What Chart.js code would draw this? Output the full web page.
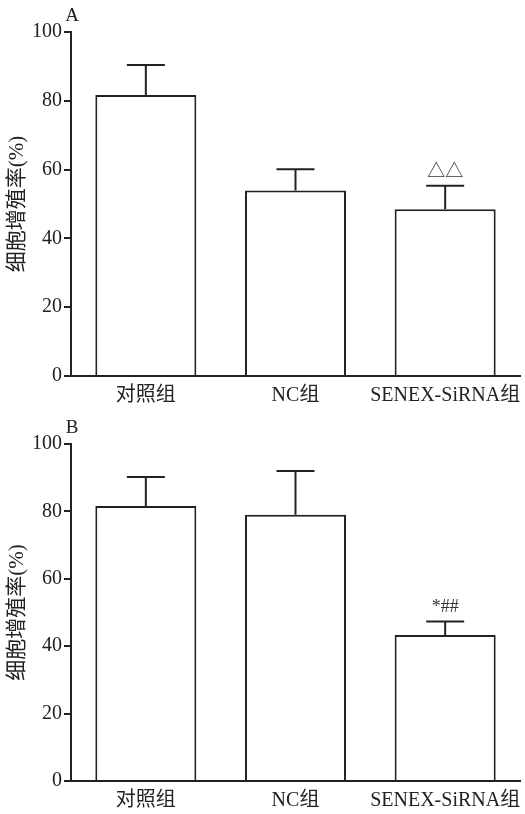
<!DOCTYPE html>
<html>
<head>
<meta charset="utf-8">
<script src="https://cdn.jsdelivr.net/npm/chart.js"></script>
<style>
  body { margin: 0; background: #fff; }
  .panel { position: absolute; left: 0; width: 525px; height: 407px; }
</style>
</head>
<body>
<div class="panel" style="top:0"><canvas id="chartA"></canvas></div>
<div class="panel" style="top:407px"><canvas id="chartB"></canvas></div>
<script>
  const categories = ['对照组', 'NC组', 'SENEX-SiRNA组'];
  const valuesA = [81.7, 53.9, 48.5];
  const errorsA = [8.7, 6.2, 6.8];
  const marksA = ['', '', '△△'];
  const valuesB = [81.6, 79.0, 43.3];
  const errorsB = [8.6, 13.0, 4.0];
  const marksB = ['', '', '*##'];
  const yTicks = [0, 20, 40, 60, 80, 100];
  const yTitle = '细胞增殖率(%)';

  const ink = '#222';
  const serif = '"Liberation Serif", "Noto Sans CJK SC", serif';

  // error bars + significance marks + panel letter
  const extras = {
    id: 'extras',
    afterDatasetsDraw(chart, args, opts) {
      const c = chart.ctx;
      const y = chart.scales.y;
      const meta = chart.getDatasetMeta(0);
      c.save();
      c.strokeStyle = ink;
      c.lineWidth = 2;
      opts.values.forEach((v, i) => {
        const x = meta.data[i].x;
        const yb = y.getPixelForValue(v);
        const yt = y.getPixelForValue(v + opts.errors[i]);
        c.beginPath();
        c.moveTo(x, yb);
        c.lineTo(x, yt);
        c.moveTo(x - 19, yt);
        c.lineTo(x + 19, yt);
        c.stroke();
        if (opts.marks[i]) {
          c.fillStyle = '#333';
          c.font = '18px ' + serif;
          c.textAlign = 'center';
          c.textBaseline = 'bottom';
          c.fillText(opts.marks[i], x, yt - 5);
        }
      });
      c.fillStyle = ink;
      c.font = '19px ' + serif;
      c.textAlign = 'center';
      c.textBaseline = 'middle';
      c.fillText(opts.letter, chart.chartArea.left + 1, chart.chartArea.top - 16);
      c.restore();
    }
  };

  function makeChart(id, values, errors, marks, letter, top, xHeight) {
    return new Chart(document.getElementById(id), {
      type: 'bar',
      data: {
        labels: categories,
        datasets: [{
          data: values,
          backgroundColor: '#fff',
          borderColor: ink,
          borderWidth: 2,
          barPercentage: 0.9,
          categoryPercentage: 0.75
        }]
      },
      options: {
        responsive: true,
        maintainAspectRatio: false,
        animation: false,
        layout: { padding: { top: top, right: 5, left: 0, bottom: 0 } },
        plugins: {
          legend: { display: false },
          tooltip: { enabled: false },
          extras: { values: values, errors: errors, marks: marks, letter: letter }
        },
        scales: {
          x: {
            grid: { display: false },
            border: { display: true, color: ink, width: 2 },
            ticks: { color: ink, font: { family: serif, size: 20 }, padding: 0, maxRotation: 0, minRotation: 0, autoSkip: false },
            afterFit(s) { s.height = xHeight; }
          },
          y: {
            min: 0,
            max: 100,
            afterBuildTicks(s) { s.ticks = yTicks.map(v => ({ value: v })); },
            grid: { drawOnChartArea: false, drawTicks: true, tickLength: 7, color: ink, lineWidth: 2 },
            border: { display: true, color: ink, width: 2 },
            ticks: { color: ink, font: { family: serif, size: 20 }, padding: 2 },
            title: { display: true, text: yTitle, color: ink, font: { family: serif, size: 21 }, padding: { top: 5, bottom: 0 } },
            afterFit(s) { s.width = 71; }
          }
        }
      },
      plugins: [extras]
    });
  }

  makeChart('chartA', valuesA, errorsA, marksA, 'A', 32, 31);
  makeChart('chartB', valuesB, errorsB, marksB, 'B', 37, 33);
</script>
</body>
</html>
